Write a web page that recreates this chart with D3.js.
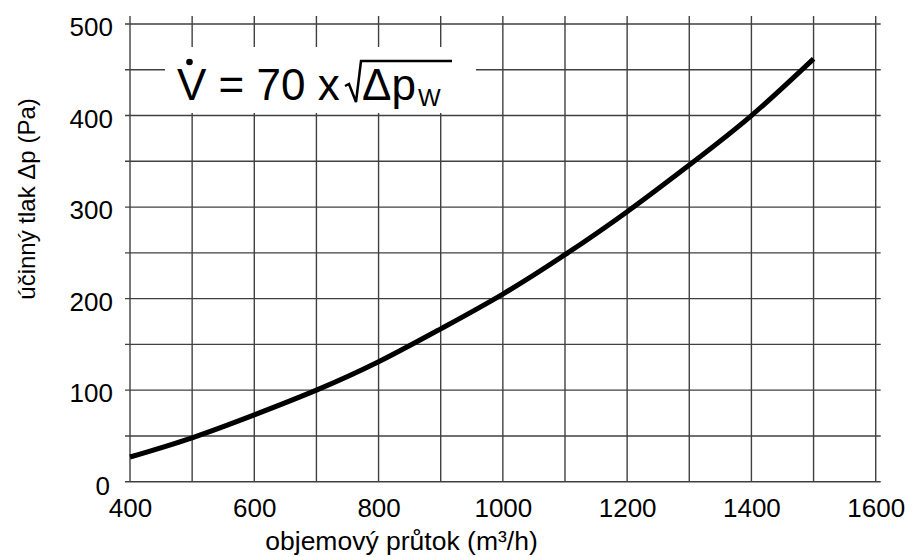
<!DOCTYPE html>
<html>
<head>
<meta charset="utf-8">
<script src="https://cdn.jsdelivr.net/npm/d3@7"></script>
<style>
  html, body { margin: 0; padding: 0; background: #fff; }
  text { font-family: "Liberation Sans", Arial, sans-serif; fill: #000; }
</style>
</head>
<body>
<div id="chart"></div>
<script>
// values
const flow = [400, 500, 600, 700, 800, 900, 1000, 1100, 1200, 1300, 1400, 1500];
const pressure = [27, 48, 73, 100, 131, 167, 205, 248, 295, 346, 400, 462];
const xTicks = [400, 600, 800, 1000, 1200, 1400, 1600];
const yTicks = [0, 100, 200, 300, 400, 500];
const xGrid = d3.range(400, 1601, 100);
const yGrid = d3.range(0, 501, 50);

const width = 921, height = 557;
const font = '"Liberation Sans", Arial, sans-serif';

const svg = d3.select('#chart').append('svg')
    .attr('width', width)
    .attr('height', height);

const x = d3.scaleLinear().domain([400, 1600]).range([130, 875.7]);
const y = d3.scaleLinear().domain([0, 500]).range([481.7, 24]);

// grid
const grid = svg.append('g').attr('stroke', '#404040').attr('stroke-width', 1.4);
grid.selectAll('.vx').data(xGrid).join('line')
    .attr('x1', d => x(d)).attr('x2', d => x(d))
    .attr('y1', y(500) - 8).attr('y2', y(0));
grid.selectAll('.hy').data(yGrid).join('line')
    .attr('x1', x(400) - 5).attr('x2', x(1600) + 5)
    .attr('y1', d => y(d)).attr('y2', d => y(d));

// tick labels
const xAxis = svg.append('g')
    .attr('transform', `translate(0,${y(0)})`)
    .call(d3.axisBottom(x).tickValues(xTicks).tickFormat(d3.format('d')).tickSize(0).tickPadding(0));
xAxis.select('.domain').remove();
xAxis.selectAll('text')
    .attr('y', 35).attr('dy', null)
    .style('font-size', '26px')
    .style('font-family', font);

const yAxis = svg.append('g')
    .attr('transform', `translate(${x(400)},0)`)
    .call(d3.axisLeft(y).tickValues(yTicks).tickFormat(d3.format('d')).tickSize(0).tickPadding(0));
yAxis.select('.domain').remove();
yAxis.selectAll('text')
    .attr('x', -17).attr('dy', '0.45em')
    .style('font-size', '26px')
    .style('font-family', font);
yAxis.selectAll('.tick').filter(d => d === 0).select('text')
    .attr('x', -20).attr('dy', '0.2em').attr('y', 8);

// axis titles
svg.append('text')
    .attr('x', 401.5).attr('y', 550)
    .attr('text-anchor', 'middle')
    .style('font-size', '26.5px')
    .text('objemový průtok (m³/h)');
svg.append('text')
    .attr('transform', 'translate(35,199) rotate(-90)')
    .attr('text-anchor', 'middle')
    .style('font-size', '24px')
    .text('účinný tlak Δp (Pa)');

// formula box
svg.append('rect')
    .attr('x', 165).attr('y', 47).attr('width', 311).attr('height', 66)
    .attr('fill', '#fff');
svg.append('text').attr('x', 177).attr('y', 100).style('font-size', '44px').text('V = 70 x');
svg.append('circle').attr('cx', 189.5).attr('cy', 62).attr('r', 3.3).attr('fill', '#000');
svg.append('path')
    .attr('d', 'M345,86 L349,84 L356,102 L361,61 L452,61')
    .attr('fill', 'none').attr('stroke', '#000').attr('stroke-width', 2.5);
svg.append('text').attr('x', 362).attr('y', 100).style('font-size', '44px').text('Δp');
svg.append('text').attr('x', 418).attr('y', 106).style('font-size', '24px').text('W');

// curve
const line = d3.line()
    .x((d, i) => x(flow[i]))
    .y(d => y(d))
    .curve(d3.curveNatural);
svg.append('path')
    .datum(pressure)
    .attr('d', line)
    .attr('fill', 'none')
    .attr('stroke', '#000')
    .attr('stroke-width', 5);
</script>
</body>
</html>
